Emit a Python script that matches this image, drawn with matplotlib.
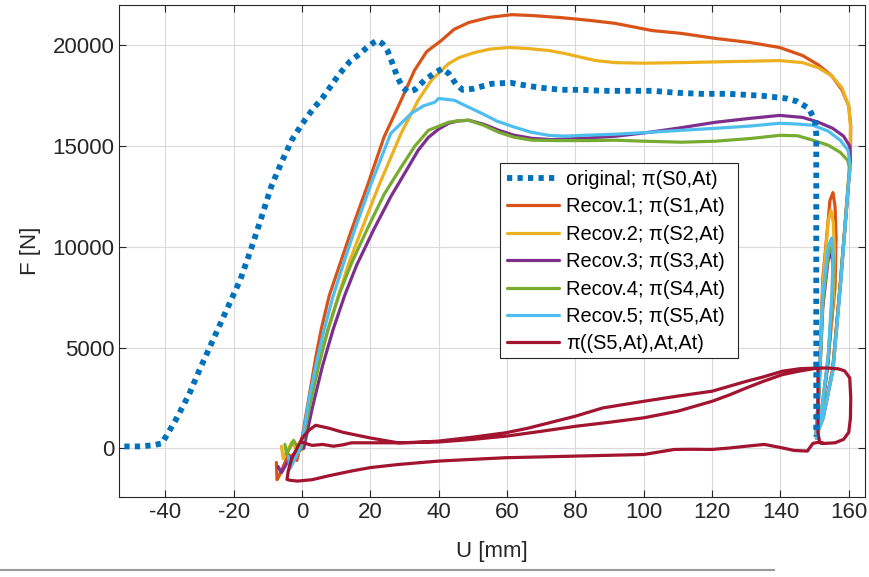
import matplotlib
matplotlib.use("Agg")
import matplotlib.pyplot as plt
from matplotlib.lines import Line2D
from matplotlib.patches import Rectangle

plt.rcParams['font.family'] = ['Liberation Sans', 'DejaVu Sans']
plt.rcParams['axes.unicode_minus'] = False

# ---- data ----
orig_u = [-52, -48, -44, -41, -37, -33, -30, -26, -22, -18, -15, -12, -9, -6, -3, 0, 3, 6, 8.5, 11, 14, 17, 19, 21, 22, 23.5, 25, 26.5, 28, 29.5, 31, 33, 36, 38.5, 41, 43, 45, 47, 50, 55.5, 61, 66, 70, 76, 82, 88, 95, 102.5, 110, 117, 125, 135, 141.8, 144.8, 148.3, 150.1, 150.5, 150.5, 150.5, 150.5]
orig_f = [100, 100, 150, 250, 1400, 2700, 3900, 5400, 6900, 8400, 9850, 11400, 13000, 14200, 15300, 16100, 16800, 17400, 18000, 18600, 19200, 19600, 19900, 20150, 20250, 20100, 19750, 19100, 18400, 17900, 17700, 17800, 18300, 18600, 18850, 18600, 18100, 17800, 17850, 18100, 18150, 18000, 17900, 17800, 17800, 17750, 17750, 17750, 17650, 17600, 17600, 17500, 17370, 17230, 16880, 16290, 15600, 10000, 4000, 600]

r1_u = [-7.5, -7.3, -6.5, -4, -1.5, 0, 2, 4, 5.6, 8, 11, 14.4, 19.4, 24, 29, 32.9, 36.5, 40.8, 44.5, 48.8, 55, 61.4, 68, 76, 84, 91.6, 102.5, 111, 121, 131, 139.8, 146.5, 151, 155, 158, 160, 160.6, 160.5, 160, 157.7, 155.4, 152.5, 150.4, 151.3, 152.4, 154.5, 155.4, 156, 156.3, 156, 154, 152, 150.6]
r1_f = [-700, -1550, -1300, -300, -600, 500, 2500, 4500, 5900, 7600, 9100, 10800, 13170, 15450, 17280, 18760, 19700, 20250, 20800, 21140, 21400, 21530, 21480, 21380, 21250, 21100, 20740, 20600, 20350, 20150, 19900, 19500, 19050, 18500, 17800, 17000, 16000, 14700, 13300, 8370, 3900, 1500, 600, 3000, 8370, 12300, 12700, 12000, 10500, 8000, 4500, 1800, 600]

r2_u = [-6, -5.5, -3, -1, 0, 2.5, 5, 7.6, 10.5, 13.5, 17.3, 22.3, 29, 34, 38, 42.9, 46, 50.5, 55, 60.5, 66, 72.2, 77, 82, 86, 91.6, 100, 111, 125, 139.8, 146.5, 151, 155, 158, 160, 160.5, 160.4, 159.9, 157.6, 155.3, 152.4, 150.4, 151.3, 152.4, 154, 154.8, 155.5, 155.8, 155.5, 153.8, 151.8, 150.6]
r2_f = [100, -500, 300, -200, 200, 2400, 4300, 5900, 7500, 9100, 10800, 12970, 15640, 17280, 18300, 19100, 19400, 19650, 19820, 19900, 19850, 19750, 19600, 19400, 19250, 19150, 19120, 19150, 19200, 19250, 19150, 18900, 18500, 17900, 17000, 16000, 14700, 13300, 8300, 3900, 1500, 600, 3000, 8000, 11300, 11830, 11200, 9800, 7500, 4200, 1600, 500]

r3_u = [-7, -6, -4, -1.5, 0.5, 3, 6, 9.1, 12.5, 16, 21.1, 26, 31.1, 34, 37, 40, 42.9, 45.5, 48.8, 53, 57.6, 62, 67.3, 73, 82, 92, 101.6, 111, 121, 131, 139.8, 146.5, 151, 155.3, 158.5, 160.3, 160.5, 160, 157.6, 155.3, 152.4, 150.4, 151.3, 152.4, 154, 154.8, 155.3, 155.2, 154, 152, 150.6]
r3_f = [-900, -1200, -600, -100, 0, 2000, 4100, 5900, 7600, 9100, 10900, 12500, 13960, 14800, 15440, 15850, 16140, 16250, 16290, 16100, 15790, 15550, 15390, 15330, 15390, 15500, 15690, 15920, 16190, 16380, 16530, 16430, 16200, 15890, 15500, 15000, 14200, 13300, 8300, 3900, 1500, 600, 2800, 7000, 9400, 9800, 9200, 7500, 4300, 1600, 500]

r4_u = [-5, -4.5, -2.5, -0.5, 0, 2.5, 5, 7.6, 11, 14.5, 19.4, 24, 29, 33, 37, 42.9, 45.5, 48.8, 53, 57.6, 62, 67.3, 75, 84, 91.6, 100, 111, 121, 131, 139.8, 145, 149.5, 154, 157.5, 159.7, 160.3, 160, 157.6, 155.3, 152.4, 150.4, 151.3, 152.4, 154, 155, 155.5, 155.3, 154, 152, 150.6]
r4_f = [200, -300, 400, -100, 200, 2300, 4200, 5900, 7700, 9200, 11000, 12600, 13960, 15000, 15790, 16190, 16260, 16290, 16050, 15690, 15450, 15300, 15280, 15280, 15300, 15250, 15200, 15250, 15380, 15540, 15520, 15300, 15050, 14700, 14300, 13900, 13300, 8300, 3900, 1500, 600, 2800, 7200, 9600, 10000, 9500, 7800, 4500, 1700, 500]

r5_u = [-4, -3.5, -2, 0, 2, 4.3, 6.5, 9, 12, 15.3, 20.3, 26, 32, 35.5, 38.8, 40, 44.6, 48, 52.6, 57, 62.3, 67, 72.2, 77, 82, 92, 101.6, 111, 121, 131, 139.8, 145, 149.5, 154, 157.5, 159.8, 160.5, 160, 157.7, 155.4, 152.5, 150.4, 151.3, 152.4, 154, 155, 155.4, 155.2, 154, 152, 150.6]
r5_f = [-400, -1000, -500, 300, 2400, 4300, 5900, 7500, 9100, 10800, 13170, 15640, 16630, 17000, 17180, 17370, 17280, 17000, 16630, 16250, 15940, 15700, 15540, 15500, 15540, 15600, 15690, 15790, 15890, 16000, 16140, 16100, 16040, 15750, 15300, 14800, 14000, 13300, 8300, 3900, 1500, 600, 3000, 7600, 10000, 10440, 9800, 8000, 4600, 1700, 500]

r6_u = [0, 3, 6, 9.2, 12, 14.5, 20, 28.2, 40, 50, 59.7, 70, 80.1, 90, 100, 110, 120, 125, 130, 135, 140.5, 145, 148, 151, 154, 157, 158.8, 160.3, 160.6, 160.5, 160, 158.5, 156, 153, 151, 149.5, 147.9, 144, 140.5, 135.3, 130, 125, 120, 114, 109, 100, 90, 80.1, 70, 59.7, 50, 39.7, 28, 20, 14.5, 8, 3, -1.3, -3.5, -4.4, -4, -3, -1.5, 0, 2, 4, 8, 12, 19.7, 24, 28.2, 33, 39.7, 50, 59.7, 66, 72.3, 80, 88, 100, 110, 120, 130, 135, 140.5, 145.8, 151, 151, 151, 151.5, 152.5]
r6_f = [300, 150, 200, 110, 180, 280, 280, 280, 320, 450, 610, 850, 1100, 1300, 1520, 1850, 2340, 2650, 3000, 3330, 3660, 3820, 3910, 3990, 3990, 3950, 3850, 3500, 2500, 1500, 800, 450, 280, 250, 300, 250, -130, -100, 30, 200, 110, 20, -50, -40, -50, -300, -340, -380, -420, -460, -540, -630, -800, -950, -1120, -1350, -1550, -1620, -1580, -1540, -1100, -500, 0, 500, 900, 1150, 1000, 800, 530, 400, 280, 300, 360, 560, 780, 1000, 1270, 1600, 2010, 2340, 2600, 2840, 3330, 3550, 3830, 3960, 3990, 2500, 800, 300, 250]

labels = ['original; π(S0,At)', 'Recov.1; π(S1,At)', 'Recov.2; π(S2,At)',
          'Recov.3; π(S3,At)', 'Recov.4; π(S4,At)', 'Recov.5; π(S5,At)',
          'π((S5,At),At,At)']
colors = ['#0072BD', '#D95319', '#EDB120', '#7E2F8E', '#77AC30', '#4DBEEE', '#A2142F']
xticks = [-40, -20, 0, 20, 40, 60, 80, 100, 120, 140, 160]
yticks = [0, 5000, 10000, 15000, 20000]

fig = plt.figure(figsize=(8.7, 5.77), dpi=100)
ax = fig.add_axes([0.137, 0.139, 0.857, 0.852])

ax.plot(orig_u, orig_f, color=colors[0], lw=4.2, linestyle=(0, (0.9, 0.9)), label=labels[0], zorder=3)
series = [(r1_u, r1_f), (r2_u, r2_f), (r3_u, r3_f), (r4_u, r4_f), (r5_u, r5_f), (r6_u, r6_f)]
for i, (u, f) in enumerate(series):
    ax.plot(u, f, color=colors[i + 1], lw=2.3, label=labels[i + 1], zorder=2 + i * 0.1,
            solid_joinstyle='round', solid_capstyle='round')

ax.set_xlim(-53.5, 164.7)
ax.set_ylim(-2400, 22000)
ax.set_xticks(xticks)
ax.set_yticks(yticks)
ax.grid(True, color='#DADADA', lw=0.8)
ax.set_axisbelow(True)
ax.tick_params(direction='in', top=True, right=True, labelsize=16, colors='#262626', length=5)
for s in ax.spines.values():
    s.set_color('#262626')
    s.set_linewidth(0.8)
ax.set_xlabel('U [mm]', fontsize=16, color='#262626', labelpad=13)
ax.set_ylabel('F [N]', fontsize=16, color='#262626', labelpad=8)

# legend box (MATLAB-style, extra right padding)
ax.add_patch(Rectangle((0.511, 0.282), 0.319, 0.397, transform=ax.transAxes,
                       facecolor='white', edgecolor='#262626', lw=0.8, zorder=4.9))
leg = ax.legend(loc='upper left', bbox_to_anchor=(0.511, 0.679), borderaxespad=0, fontsize=14.4,
                handlelength=2.6, labelspacing=0.42, borderpad=0.35, handletextpad=0.35,
                frameon=False)
leg.set_zorder(5)

fig.add_artist(Line2D([0.0, 0.89], [0.012, 0.012], transform=fig.transFigure, color='#9A9A9A', lw=1.5))

fig.savefig('out.png', dpi=100)
